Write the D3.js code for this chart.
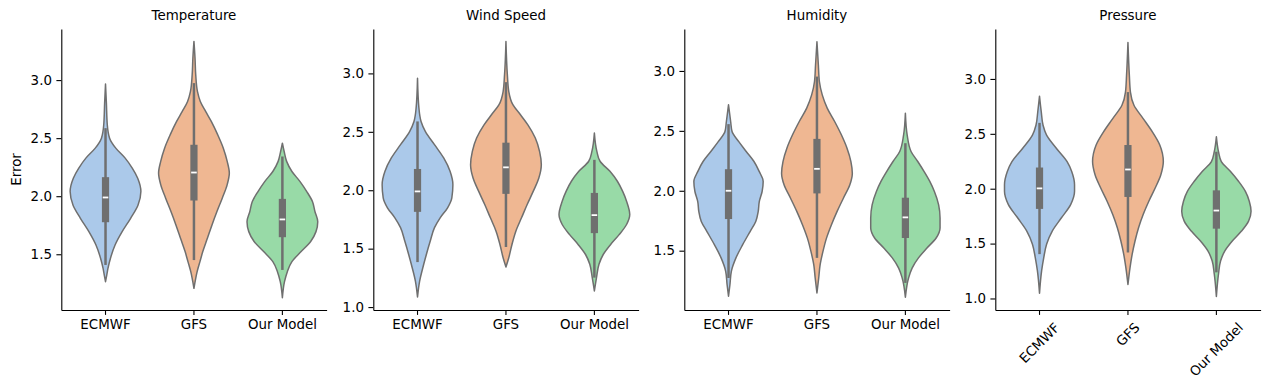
<!DOCTYPE html>
<html><head><meta charset="utf-8">
<script src="https://cdn.jsdelivr.net/npm/d3@7"></script>
<style>body{margin:0;background:#fff} svg{display:block}</style>
</head><body><svg id="chart" width="1270" height="390"></svg>
<script>
const panelTitles = ["Temperature", "Wind Speed", "Humidity", "Pressure"];
const models = ["ECMWF", "GFS", "Our Model"];
const fillColors = ["#abc9ea", "#efb792", "#98daa7"];
const yTickValues = [[1.5, 2.0, 2.5, 3.0], [1.0, 1.5, 2.0, 2.5, 3.0], [1.5, 2.0, 2.5, 3.0], [1.0, 1.5, 2.0, 2.5, 3.0]];
const yDomains = [[1.02, 3.44], [0.975, 3.38], [1.005, 3.35], [0.895, 3.455]];

// violin profiles: [error value, relative density width]
const temperatureECMWF = [[2.966,0],[2.8,0.025],[2.615,0.05],[2.5,0.115],[2.414,0.29],[2.33,0.55],[2.24,0.76],[2.155,0.91],[2.04,1.0],[1.925,0.92],[1.81,0.71],[1.695,0.47],[1.58,0.27],[1.466,0.14],[1.38,0.07],[1.32,0.035],[1.264,0]];
const temperatureGFS = [[3.333,0],[3.19,0.03],[3.046,0.05],[2.9,0.1],[2.816,0.18],[2.73,0.33],[2.644,0.49],[2.53,0.67],[2.414,0.83],[2.3,0.94],[2.2,1.0],[2.1,0.94],[1.983,0.8],[1.868,0.65],[1.753,0.51],[1.638,0.38],[1.523,0.25],[1.437,0.17],[1.35,0.09],[1.293,0.05],[1.207,0]];
const temperatureOurModel = [[2.457,0],[2.385,0.05],[2.3,0.12],[2.213,0.27],[2.126,0.5],[2.04,0.69],[1.954,0.85],[1.868,0.92],[1.78,1.0],[1.695,0.95],[1.61,0.8],[1.523,0.53],[1.437,0.27],[1.35,0.14],[1.264,0.06],[1.126,0]];
const windECMWF = [[2.959,0],[2.703,0.04],[2.589,0.1],[2.504,0.22],[2.39,0.48],[2.276,0.74],[2.162,0.92],[2.048,1.0],[1.935,0.97],[1.85,0.85],[1.764,0.64],[1.68,0.48],[1.565,0.36],[1.45,0.25],[1.337,0.15],[1.223,0.06],[1.087,0]];
const windGFS = [[3.272,0],[2.987,0.04],[2.845,0.08],[2.73,0.2],[2.646,0.41],[2.56,0.62],[2.447,0.83],[2.333,0.95],[2.219,1.0],[2.105,0.93],[1.99,0.77],[1.878,0.6],[1.764,0.44],[1.65,0.28],[1.536,0.17],[1.422,0.08],[1.343,0]];
const windOurModel = [[2.489,0],[2.333,0.07],[2.248,0.16],[2.162,0.44],[2.077,0.65],[1.99,0.8],[1.906,0.91],[1.792,1.0],[1.707,0.91],[1.62,0.7],[1.536,0.46],[1.45,0.25],[1.366,0.13],[1.252,0.06],[1.138,0]];
const humidityECMWF = [[2.717,0],[2.578,0.06],[2.494,0.1],[2.41,0.29],[2.328,0.5],[2.244,0.72],[2.16,0.87],[2.078,0.98],[1.994,0.95],[1.91,0.87],[1.828,0.84],[1.744,0.77],[1.66,0.61],[1.55,0.4],[1.44,0.21],[1.328,0.08],[1.217,0.04],[1.12,0]];
const humidityGFS = [[3.244,0],[3.05,0.04],[2.91,0.07],[2.8,0.15],[2.69,0.29],[2.578,0.5],[2.467,0.69],[2.355,0.85],[2.244,0.96],[2.147,1.0],[2.05,0.93],[1.94,0.75],[1.828,0.57],[1.717,0.41],[1.605,0.27],[1.494,0.17],[1.383,0.09],[1.272,0.05],[1.147,0]];
const humidityOurModel = [[2.647,0],[2.467,0.05],[2.328,0.16],[2.244,0.35],[2.16,0.53],[2.078,0.69],[1.994,0.82],[1.883,0.94],[1.772,0.98],[1.69,0.98],[1.606,0.87],[1.522,0.61],[1.44,0.37],[1.355,0.19],[1.272,0.09],[1.111,0]];
const pressureECMWF = [[2.843,0],[2.699,0.05],[2.578,0.1],[2.488,0.2],[2.367,0.48],[2.247,0.78],[2.157,0.91],[2.036,0.99],[1.976,0.99],[1.855,0.88],[1.735,0.62],[1.614,0.36],[1.494,0.2],[1.373,0.12],[1.253,0.06],[1.048,0]];
const pressureGFS = [[3.331,0],[3.03,0.04],[2.88,0.07],[2.76,0.17],[2.639,0.43],[2.518,0.69],[2.398,0.9],[2.247,1.0],[2.127,0.93],[2.006,0.77],[1.886,0.59],[1.765,0.43],[1.645,0.3],[1.524,0.2],[1.404,0.12],[1.283,0.06],[1.127,0]];
const pressureOurModel = [[2.473,0],[2.337,0.06],[2.247,0.14],[2.157,0.4],[2.066,0.63],[1.976,0.82],[1.886,0.93],[1.795,0.98],[1.705,0.91],[1.614,0.71],[1.524,0.45],[1.434,0.24],[1.343,0.12],[1.223,0.06],[1.018,0]];

// inner box: [lower whisker, q1, median, q3, upper whisker]
const temperatureBox = [[1.408,1.776,1.989,2.164,2.586],[1.45,1.963,2.204,2.443,2.974],[1.365,1.647,1.80,1.977,2.342]];
const windBox = [[1.385,1.815,1.99,2.182,2.589],[1.514,1.969,2.196,2.407,2.925],[1.252,1.633,1.787,1.977,2.26]];
const humidityBox = [[1.272,1.764,2.0,2.18,2.556],[1.44,1.978,2.183,2.433,2.953],[1.231,1.606,1.778,1.942,2.397]];
const pressureBox = [[1.404,1.816,2.003,2.193,2.6],[1.419,1.925,2.175,2.398,2.88],[1.238,1.636,1.801,1.985,2.337]];

const profiles = [
  [temperatureECMWF, temperatureGFS, temperatureOurModel],
  [windECMWF, windGFS, windOurModel],
  [humidityECMWF, humidityGFS, humidityOurModel],
  [pressureECMWF, pressureGFS, pressureOurModel]
];
const boxes = [temperatureBox, windBox, humidityBox, pressureBox];

const svg = d3.select("#chart");
const panelLeft = [61.3, 373.3, 684.3, 995.3];
const plotW = 265.3, plotTop = 29, plotBottom = 310;
const font = "'DejaVu Sans', sans-serif", fs = 13.4;
const lineGray = "#6f6f6f";
const textColor = "#000";

panelTitles.forEach((title, i) => {
  const g = svg.append("g");
  const x = d3.scaleBand().domain(models).range([panelLeft[i], panelLeft[i] + plotW]);
  const y = d3.scaleLinear().domain(yDomains[i]).range([plotBottom, plotTop]);
  const wScale = d3.scaleLinear().domain([0, 1]).range([0, x.bandwidth() * 0.4]);

  models.forEach((m, j) => {
    const cx = x(m) + x.bandwidth() / 2;
    const area = d3.area().curve(d3.curveMonotoneY)
      .y(d => y(d[0])).x0(d => cx - wScale(d[1])).x1(d => cx + wScale(d[1]));
    g.append("path").attr("d", area(profiles[i][j]))
      .attr("fill", fillColors[j]).attr("stroke", lineGray)
      .attr("stroke-width", 1.5).attr("stroke-linejoin", "round");
    const b = boxes[i][j];
    g.append("line").attr("x1", cx).attr("x2", cx).attr("y1", y(b[0])).attr("y2", y(b[4]))
      .attr("stroke", lineGray).attr("stroke-width", 2.5);
    g.append("rect").attr("x", cx - 3.6).attr("width", 7.2)
      .attr("y", y(b[3])).attr("height", y(b[1]) - y(b[3])).attr("fill", lineGray);
    g.append("line").attr("x1", cx - 2.8).attr("x2", cx + 2.8).attr("y1", y(b[2])).attr("y2", y(b[2]))
      .attr("stroke", "#fff").attr("stroke-width", 1.8);
  });

  const yAxis = g.append("g").attr("transform", `translate(${panelLeft[i]},0)`)
    .call(d3.axisLeft(y).tickValues(yTickValues[i]).tickFormat(d3.format(".1f")).tickSize(4.9).tickSizeOuter(0).tickPadding(4.5));
  const xAxis = g.append("g").attr("transform", `translate(0,${plotBottom})`)
    .call(d3.axisBottom(x).tickSize(4.9).tickSizeOuter(0).tickPadding(4.5));
  [yAxis, xAxis].forEach(ax => {
    ax.attr("font-family", null).attr("font-size", null);
    ax.select(".domain").attr("stroke", "#000").attr("stroke-width", 1.1);
    ax.selectAll(".tick line").attr("stroke", "#000").attr("stroke-width", 1.1);
    ax.selectAll(".tick text").attr("fill", textColor).style("font-family", font).style("font-size", fs + "px");
  });

  if (i === 3) {
    xAxis.selectAll(".tick text").each(function () {
      const t = d3.select(this);
      const w = this.getComputedTextLength();
      const h = 15.5;
      const bh = (w + h) * Math.SQRT1_2;
      const cy = 9.8 + bh / 2;
      t.attr("dy", null).attr("x", 0).attr("y", cy)
        .attr("text-anchor", "middle").attr("dominant-baseline", "central")
        .attr("transform", `rotate(-45,0,${cy})`);
    });
  }

  g.append("text").attr("x", panelLeft[i] + plotW / 2).attr("y", 20)
    .attr("text-anchor", "middle").attr("fill", textColor)
    .style("font-family", font).style("font-size", fs + "px").text(title);

  if (i === 0) {
    g.append("text").attr("transform", `translate(21,${(plotTop + plotBottom) / 2}) rotate(-90)`)
      .attr("text-anchor", "middle").attr("fill", textColor)
      .style("font-family", font).style("font-size", fs + "px").text("Error");
  }
});
</script></body></html>
